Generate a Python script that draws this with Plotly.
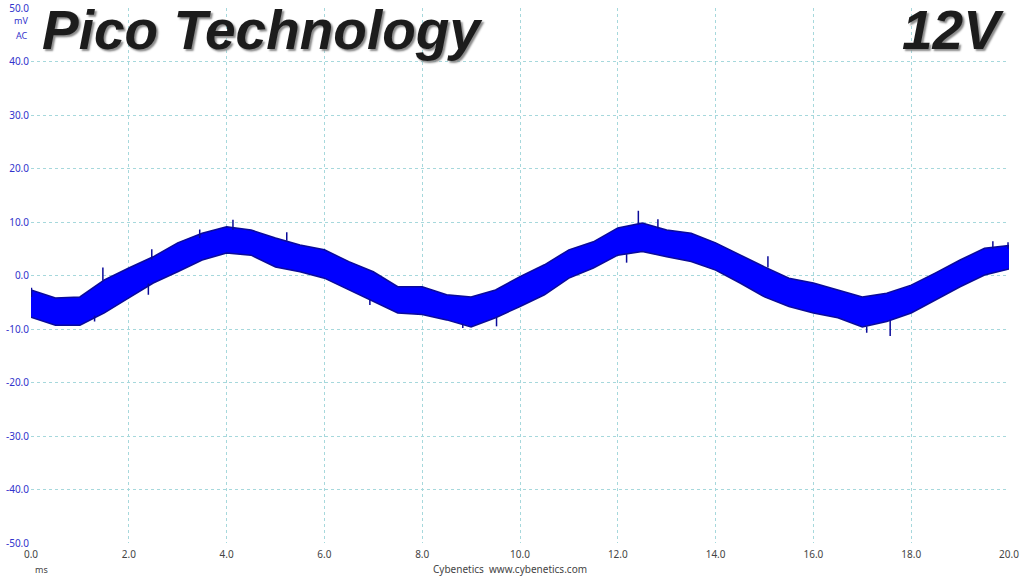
import plotly.graph_objects as go

# ripple trace: upper / lower edge of the noise band (mV)
time_ms = [0.0, 0.5, 1.0, 1.5, 2.0, 2.5, 3.0, 3.5, 4.0, 4.5, 5.0, 5.5, 6.0, 6.5, 7.0,
           7.5, 8.0, 8.5, 9.0, 9.5, 10.0, 10.5, 11.0, 11.5, 12.0, 12.5, 13.0, 13.5,
           14.0, 14.5, 15.0, 15.5, 16.0, 16.5, 17.0, 17.5, 18.0, 18.5, 19.0, 19.5, 20.0]
upper_mv = [-2.7, -4.2, -4.0, -0.8, 1.4, 3.5, 6.1, 7.9, 9.1, 8.5, 7.0, 5.7, 4.8, 2.6, 0.7,
            -2.1, -2.1, -3.6, -4.0, -2.7, -0.2, 2.0, 4.8, 6.3, 8.9, 9.8, 8.5, 7.9,
            6.1, 3.8, 1.6, -0.5, -1.4, -2.7, -4.0, -3.3, -1.8, 0.5, 2.9, 5.1, 5.6]
lower_mv = [-7.8, -9.3, -9.3, -7.0, -4.2, -1.4, 0.7, 2.9, 4.2, 3.8, 1.6, 0.7, -0.5, -2.7, -4.9,
            -7.0, -7.3, -8.3, -9.6, -7.9, -5.8, -3.6, -0.5, 1.4, 3.8, 4.5, 3.5, 2.6,
            1.0, -1.4, -4.0, -5.8, -7.0, -7.9, -9.6, -8.6, -7.0, -4.6, -2.1, 0.1, 1.2]

# isolated spikes sticking out of the band (time ms, base mV, tip mV)
spike_t = [0.01, 1.3, 1.47, 2.4, 2.47, 3.45, 4.13, 5.23, 6.93, 8.83, 9.52,
           12.18, 12.42, 12.82, 15.07, 17.09, 17.57, 19.67, 19.98]
spike_base = [-4.0, -7.5, -1.0, -1.5, 3.0, 7.0, 8.5, 6.5, -4.5, -9.0, -7.8,
              4.0, 9.5, 8.8, 1.5, -9.5, -8.5, 5.0, 5.0]
spike_tip = [-2.3, -8.6, 1.5, -3.6, 4.9, 8.6, 10.4, 8.1, -5.5, -9.8, -9.5,
             2.4, 12.1, 10.5, 3.6, -10.7, -11.3, 6.4, 6.2]

x_ticks = [0, 2, 4, 6, 8, 10, 12, 14, 16, 18, 20]
x_labels = ["0.0", "2.0", "4.0", "6.0", "8.0", "10.0", "12.0", "14.0", "16.0", "18.0", "20.0"]
y_ticks = [50, 40, 30, 20, 10, 0, -10, -20, -30, -40, -50]
y_labels = ["50.0", "40.0", "30.0", "20.0", "10.0", "0.0", "-10.0", "-20.0", "-30.0", "-40.0", "-50.0"]

BLUE = "#0000ff"
EDGE = "#0a0a9a"
GRID = "#a6d8dc"
font = "Noto Sans"

fig = go.Figure()
fig.add_trace(go.Scatter(x=time_ms, y=lower_mv, mode="lines",
                         line=dict(color=EDGE, width=1.5), hoverinfo="skip"))
fig.add_trace(go.Scatter(x=time_ms, y=upper_mv, mode="lines", fill="tonexty",
                         fillcolor=BLUE, line=dict(color=EDGE, width=1.5), hoverinfo="skip"))
for t, b, s in zip(spike_t, spike_base, spike_tip):
    fig.add_trace(go.Scatter(x=[t, t], y=[b, s], mode="lines",
                             line=dict(color=EDGE, width=1.5), hoverinfo="skip"))

fig.update_layout(
    width=1024, height=576,
    margin=dict(l=31, r=15, t=8, b=33),
    paper_bgcolor="white", plot_bgcolor="white",
    showlegend=False,
    font=dict(family=font, size=10),
    xaxis=dict(range=[0, 20], tickvals=x_ticks, ticktext=x_labels, automargin=False,
               showgrid=True, gridcolor=GRID, griddash="dot", gridwidth=1,
               zeroline=False, showline=False, ticks="", ticklabelstandoff=4,
               tickfont=dict(color="#444444", size=10)),
    yaxis=dict(range=[-50, 50], tickvals=y_ticks, ticktext=y_labels, automargin=False,
               showgrid=True, gridcolor=GRID, griddash="dot", gridwidth=1,
               zeroline=False, showline=False, ticks="", ticklabelstandoff=1,
               tickfont=dict(color="#3333cc", size=10)),
)

# units
fig.add_annotation(text="mV", xref="paper", yref="paper", x=-0.001, y=0.976,
                   xanchor="right", yanchor="middle", showarrow=False,
                   font=dict(color="#3333cc", size=9, family=font))
fig.add_annotation(text="AC", xref="paper", yref="paper", x=-0.001, y=0.948,
                   xanchor="right", yanchor="middle", showarrow=False,
                   font=dict(color="#3333cc", size=9, family=font))
fig.add_annotation(text="ms", xref="paper", yref="paper", x=0.002, y=-0.0486,
                   xanchor="left", yanchor="middle", showarrow=False,
                   font=dict(color="#444444", size=9, family=font))
fig.add_annotation(text="Cybenetics  www.cybenetics.com", xref="paper", yref="paper",
                   x=0.49, y=-0.0486, xanchor="center", yanchor="middle", showarrow=False,
                   font=dict(color="#444444", size=10, family=font))

# big titles
title_font = dict(family="Liberation Sans", size=55, color="#1c1c1c",
                  weight="bold", style="italic", shadow="2px 2px 2px #8a8a8a")
fig.add_annotation(text="Pico Technology", xref="paper", yref="paper", x=0.009, y=1.02,
                   xanchor="left", yanchor="top", showarrow=False, font=title_font)
fig.add_annotation(text="12V", xref="paper", yref="paper", x=0.997, y=1.02,
                   xanchor="right", yanchor="top", showarrow=False, font=title_font)

# the page body has a default 8px margin; drop it so the 1024x576 figure fills the window
fig.write_html("out.html", config={"displayModeBar": False},
               post_script="document.body.style.margin='0';")
